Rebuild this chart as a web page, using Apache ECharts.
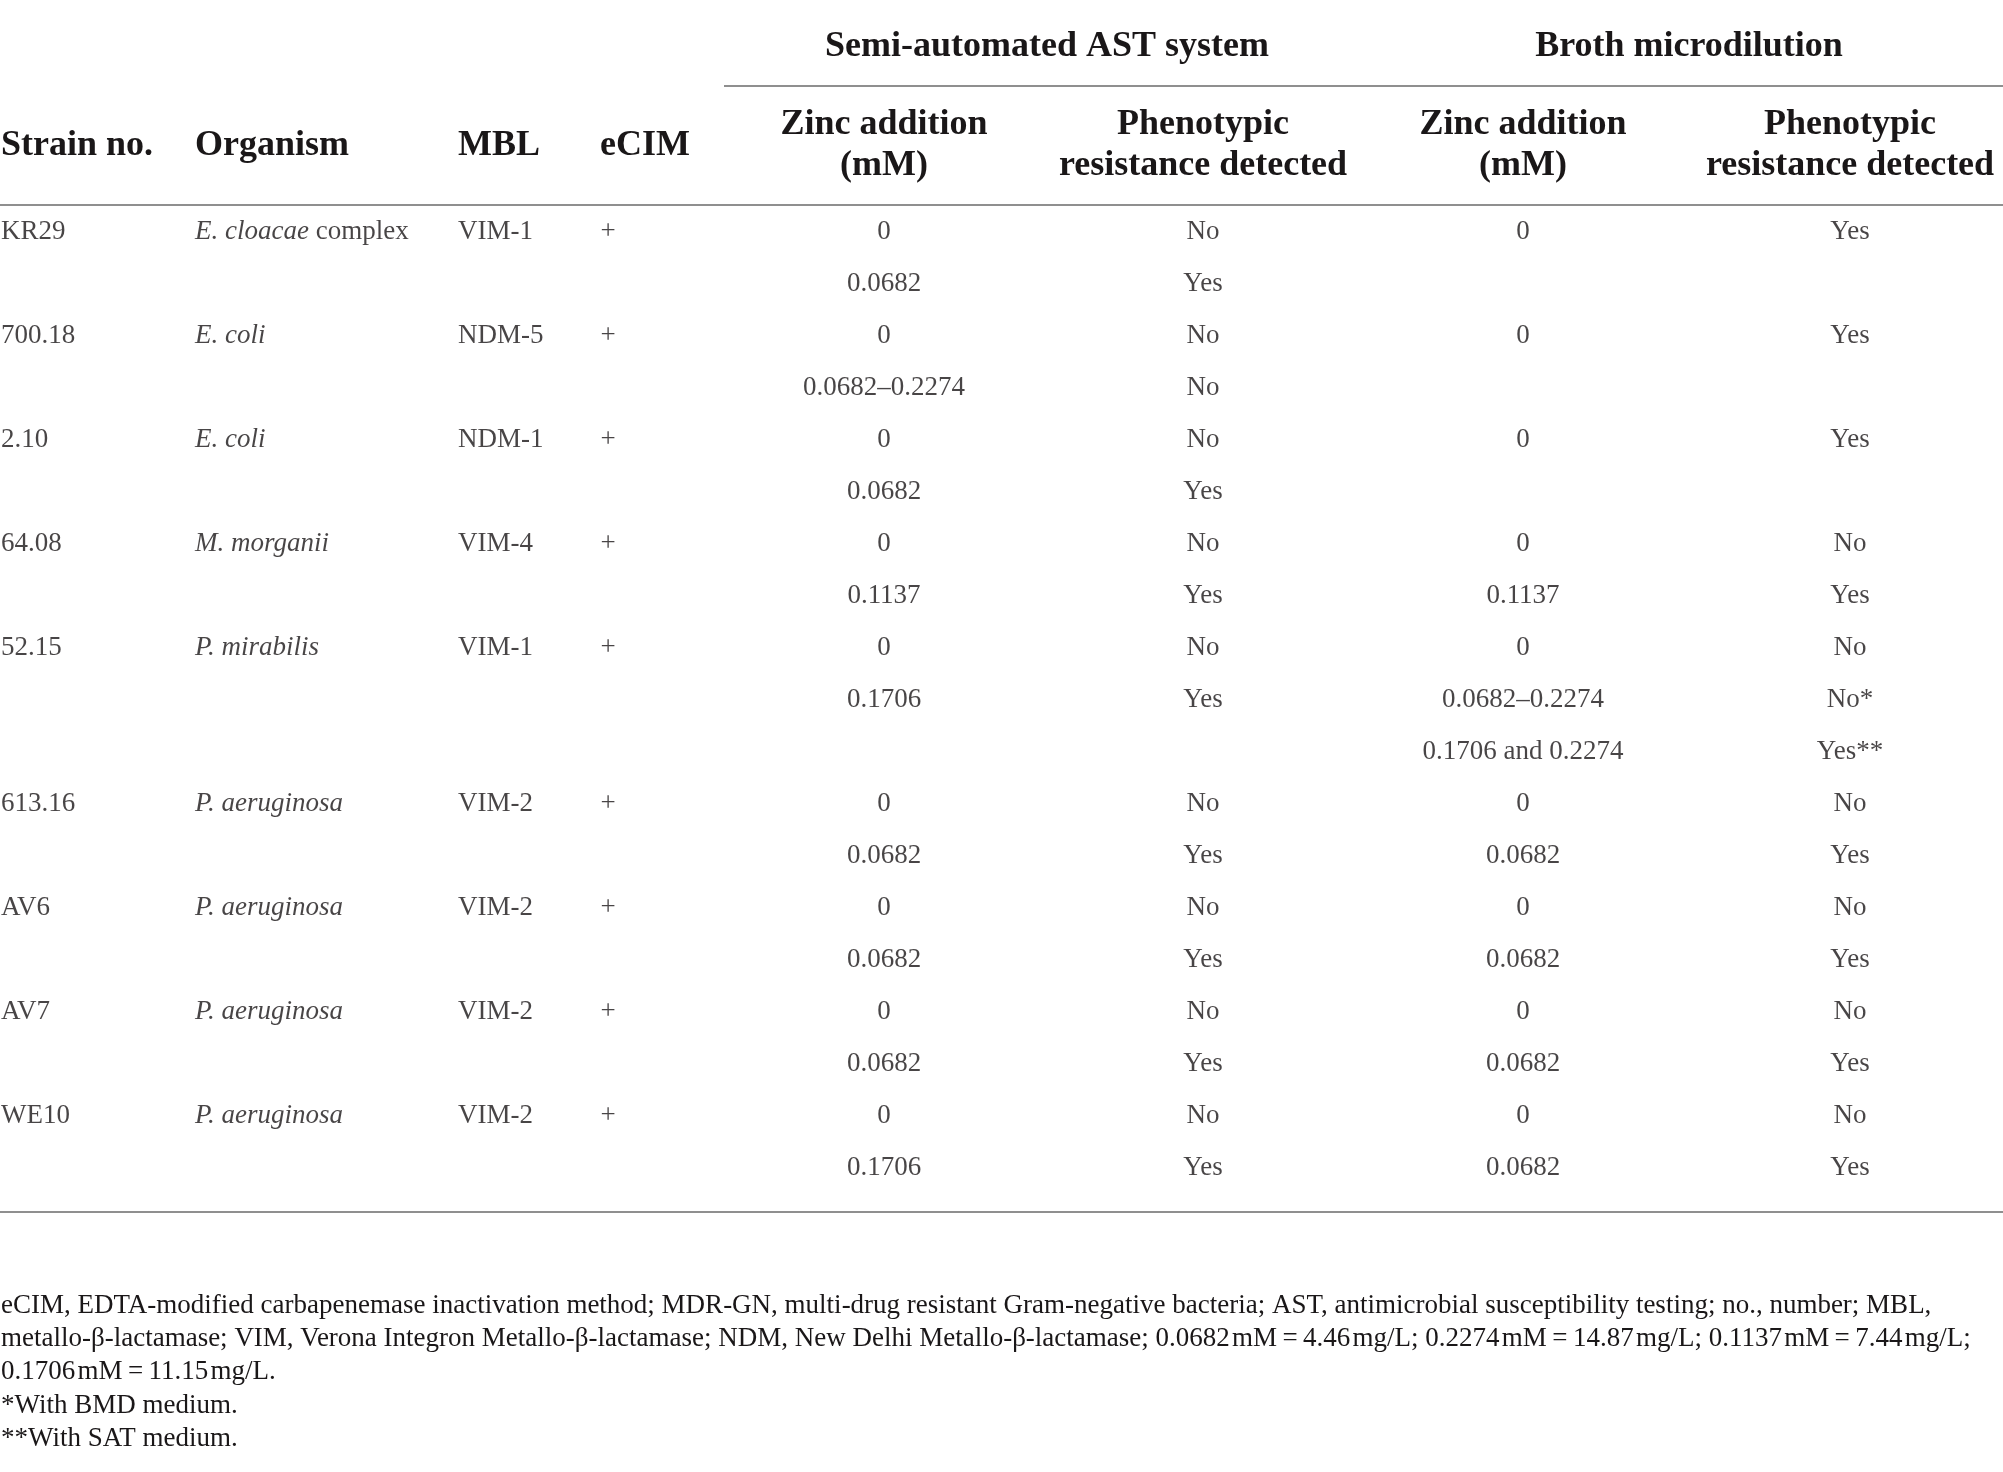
<!DOCTYPE html>
<html>
<head>
<meta charset="utf-8">
<script src="https://cdn.jsdelivr.net/npm/echarts@6/dist/echarts.min.js"></script>
<style>
  html, body { margin: 0; padding: 0; background: #fff; }
  #main { width: 2003px; height: 1472px; }
</style>
</head>
<body>
<div id="main"></div>
<script>
// table content
var strains = ['KR29', '700.18', '2.10', '64.08', '52.15', '613.16', 'AV6', 'AV7', 'WE10'];
var organismItalic = ['E. cloacae', 'E. coli', 'E. coli', 'M. morganii', 'P. mirabilis', 'P. aeruginosa', 'P. aeruginosa', 'P. aeruginosa', 'P. aeruginosa'];
var organismSuffix = [' complex', '', '', '', '', '', '', '', ''];
var mbl = ['VIM-1', 'NDM-5', 'NDM-1', 'VIM-4', 'VIM-1', 'VIM-2', 'VIM-2', 'VIM-2', 'VIM-2'];
var ecim = ['+', '+', '+', '+', '+', '+', '+', '+', '+'];
var astZinc = [['0', '0.0682'], ['0', '0.0682–0.2274'], ['0', '0.0682'], ['0', '0.1137'], ['0', '0.1706'],
  ['0', '0.0682'], ['0', '0.0682'], ['0', '0.0682'], ['0', '0.1706']];
var astResistance = [['No', 'Yes'], ['No', 'No'], ['No', 'Yes'], ['No', 'Yes'], ['No', 'Yes'],
  ['No', 'Yes'], ['No', 'Yes'], ['No', 'Yes'], ['No', 'Yes']];
var bmdZinc = [['0'], ['0'], ['0'], ['0', '0.1137'], ['0', '0.0682–0.2274', '0.1706 and 0.2274'],
  ['0', '0.0682'], ['0', '0.0682'], ['0', '0.0682'], ['0', '0.0682']];
var bmdResistance = [['Yes'], ['Yes'], ['Yes'], ['No', 'Yes'], ['No', 'No*', 'Yes**'],
  ['No', 'Yes'], ['No', 'Yes'], ['No', 'Yes'], ['No', 'Yes']];

var groupHeaders = ['Semi-automated AST system', 'Broth microdilution'];
var columnHeaders = ['Strain no.', 'Organism', 'MBL', 'eCIM', 'Zinc addition\n(mM)',
  'Phenotypic\nresistance detected', 'Zinc addition\n(mM)', 'Phenotypic\nresistance detected'];
var footnotes = [
  'eCIM, EDTA-modified carbapenemase inactivation method; MDR-GN, multi-drug resistant Gram-negative bacteria; AST, antimicrobial susceptibility testing; no., number; MBL,',
  'metallo-β-lactamase; VIM, Verona Integron Metallo-β-lactamase; NDM, New Delhi Metallo-β-lactamase; 0.0682\u200amM\u2009=\u20094.46\u200amg/L; 0.2274\u200amM\u2009=\u200914.87\u200amg/L; 0.1137\u200amM\u2009=\u20097.44\u200amg/L;',
  '0.1706\u200amM\u2009=\u200911.15\u200amg/L.',
  '*With BMD medium.',
  '**With SAT medium.'
];

// layout
var W = 2003, H = 1472;
var colX = [1, 195, 458, 608, 884, 1203, 1523, 1850];
var colAlign = ['left', 'left', 'left', 'center', 'center', 'center', 'center', 'center'];
var headX = [1, 195, 458, 600, 884, 1203, 1523, 1850];
var headAlign = ['left', 'left', 'left', 'left', 'center', 'center', 'center', 'center'];
var font = 'Liberation Serif';
var ink = '#1a1718';
var rule = '#8f8f8f';
var bodySize = 27;

// flatten into table rows
var rowIdx = [];
var cells = [[], [], [], [], [], [], [], []];
var r = 0;
strains.forEach(function (s, i) {
  var n = Math.max(astZinc[i].length, astResistance[i].length, bmdZinc[i].length, bmdResistance[i].length);
  cells[0].push([colX[0], r, s]);
  cells[1].push([colX[1], r, '{i|' + organismItalic[i] + '}' + organismSuffix[i]]);
  cells[2].push([colX[2], r, mbl[i]]);
  cells[3].push([colX[3], r, ecim[i]]);
  [astZinc, astResistance, bmdZinc, bmdResistance].forEach(function (arr, c) {
    arr[i].forEach(function (v, k) { cells[4 + c].push([colX[4 + c], r + k, v]); });
  });
  r += n;
});
for (var k = 0; k < r; k++) rowIdx.push(String(k));

var series = cells.map(function (data, c) {
  return {
    type: 'scatter',
    symbolSize: 1,
    itemStyle: { color: 'transparent' },
    silent: true,
    data: data.map(function (d) { return [d[0], String(d[1]), d[2]]; }),
    label: {
      show: true,
      position: 'inside',
      align: colAlign[c],
      verticalAlign: 'middle',
      color: ink,
      fontFamily: font,
      fontSize: bodySize,
      formatter: function (p) { return p.value[2]; },
      rich: { i: { fontStyle: 'italic', fontFamily: font, fontSize: bodySize, color: ink } }
    }
  };
});

var graphic = [];
function hline(x1, x2, y) {
  graphic.push({ type: 'line', silent: true, shape: { x1: x1, y1: y, x2: x2, y2: y },
    style: { stroke: rule, lineWidth: 2 } });
}
hline(724, W, 86);
hline(0, W, 205);
hline(0, W, 1212);

graphic.push({ type: 'text', x: 1047, y: 46.5, style: { text: groupHeaders[0], fill: ink,
  font: 'bold 36px "' + font + '"', textAlign: 'center', textVerticalAlign: 'middle' } });
graphic.push({ type: 'text', x: 1689, y: 46.5, style: { text: groupHeaders[1], fill: ink,
  font: 'bold 36px "' + font + '"', textAlign: 'center', textVerticalAlign: 'middle' } });
columnHeaders.forEach(function (t, c) {
  graphic.push({ type: 'text', x: headX[c], y: 145.5, style: { text: t, fill: ink,
    font: 'bold 36px "' + font + '"', lineHeight: 41,
    textAlign: headAlign[c], textVerticalAlign: 'middle' } });
});
footnotes.forEach(function (t, i) {
  graphic.push({ type: 'text', x: 1, y: 1306 + i * 33.2, style: { text: t, fill: ink,
    font: '27px "' + font + '"', textAlign: 'left', textVerticalAlign: 'middle' } });
});

var chart = echarts.init(document.getElementById('main'));
chart.setOption({
  backgroundColor: '#ffffff',
  animation: false,
  grid: { left: 0, right: 0, top: 205.5, bottom: 277.9 },
  xAxis: { type: 'value', min: 0, max: W, show: false },
  yAxis: { type: 'category', data: rowIdx, inverse: true, show: false },
  series: series,
  graphic: graphic
});
</script>
</body>
</html>
